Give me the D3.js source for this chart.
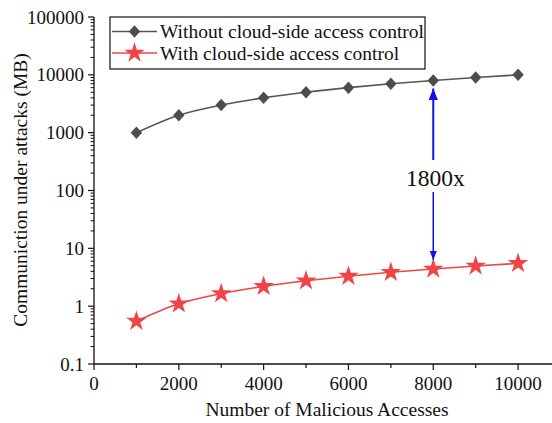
<!DOCTYPE html>
<html><head><meta charset="utf-8">
<script src="https://cdn.jsdelivr.net/npm/d3@7"></script>
<style>body{margin:0;background:#fff}svg{display:block}text{font-family:"Liberation Serif","Times New Roman",serif;fill:#111}</style>
</head><body>
<svg id="c" width="552" height="423"></svg>
<script>
const accesses = [1000,2000,3000,4000,5000,6000,7000,8000,9000,10000];
const withoutControl = [1000,2000,3000,4000,5000,6000,7000,8000,9000,10000];
const withControl = [0.55,1.1,1.65,2.2,2.75,3.3,3.85,4.4,4.95,5.5];
const seriesNames = ["Without cloud-side access control","With cloud-side access control"];
const xTicks = [0,2000,4000,6000,8000,10000];
const yTicks = [0.1,1,10,100,1000,10000,100000];
const annotation = "1800x";
const annotationX = 8000;

const svg = d3.select("#c");
const x = d3.scaleLinear().domain([0,10800]).range([94,552]);
const y = d3.scaleLog().domain([0.1,100000]).range([364,17]);
const tickSz = 19, titleSz = 19.5;

// x axis
const gx = svg.append("g").attr("transform","translate(0,364)");
gx.append("line").attr("x1",94).attr("x2",552).attr("stroke","#111").attr("stroke-width",1.3);
gx.selectAll(".t").data(d3.range(0,11000,1000)).enter().append("line")
  .attr("x1",d=>x(d)).attr("x2",d=>x(d)).attr("y1",0).attr("y2",d=>d%2000===0?6:4)
  .attr("stroke","#111").attr("stroke-width",1.2);
gx.selectAll(".l").data(xTicks).enter().append("text")
  .attr("x",d=>x(d)).attr("y",26).attr("text-anchor","middle").attr("font-size",tickSz).text(d=>d);

// y axis
const gy = svg.append("g").attr("transform","translate(94,0)");
gy.append("line").attr("y1",17).attr("y2",364).attr("stroke","#111").attr("stroke-width",1.3);
const minor = [];
for (let e=-1;e<5;e++) for (let m=2;m<=9;m++) minor.push(m*Math.pow(10,e));
gy.selectAll(".m").data(minor).enter().append("line")
  .attr("x1",-3.5).attr("x2",0).attr("y1",d=>y(d)).attr("y2",d=>y(d)).attr("stroke","#111").attr("stroke-width",1);
gy.selectAll(".t").data(yTicks).enter().append("line")
  .attr("x1",-6).attr("x2",0).attr("y1",d=>y(d)).attr("y2",d=>y(d)).attr("stroke","#111").attr("stroke-width",1.2);
gy.selectAll(".l").data(yTicks).enter().append("text")
  .attr("x",-10).attr("y",d=>y(d)).attr("dy","0.35em").attr("text-anchor","end").attr("font-size",tickSz)
  .text(d=>d<1?d.toFixed(1):d3.format("d")(d));

// axis titles
svg.append("text").attr("x",327).attr("y",416).attr("text-anchor","middle").attr("font-size",titleSz).text("Number of Malicious Accesses");
svg.append("text").attr("transform","translate(27,190) rotate(-90)").attr("text-anchor","middle").attr("font-size",titleSz).text("Communiction under attacks (MB)");

// lines
const line = (vals)=>d3.line().curve(d3.curveMonotoneX).x((d,i)=>x(accesses[i])).y(d=>y(d))(vals);
svg.append("path").attr("d",line(withoutControl)).attr("fill","none").attr("stroke","#555").attr("stroke-width",1.6);
svg.append("path").attr("d",line(withControl)).attr("fill","none").attr("stroke","#f04448").attr("stroke-width",1.6);

const diamond = d3.symbol().type(d3.symbolDiamond2).size(75);
const star = d3.symbol().type(d3.symbolStar).size(130);
svg.selectAll(".dm").data(withoutControl).enter().append("path").attr("d",diamond)
  .attr("transform",(d,i)=>`translate(${x(accesses[i])},${y(d)}) scale(1.05,1.15)`).attr("fill","#4d4d4d");
svg.selectAll(".st").data(withControl).enter().append("path").attr("d",star)
  .attr("transform",(d,i)=>`translate(${x(accesses[i])},${y(d)})`).attr("fill","#f04448");

// annotation arrows
const ax = x(annotationX);
const iTop = accesses.indexOf(annotationX);
const defs = svg.append("defs");
defs.append("marker").attr("id","ah").attr("viewBox","0 0 10 10").attr("refX",10).attr("refY",5)
  .attr("markerWidth",6).attr("markerHeight",8).attr("orient","auto")
  .append("path").attr("d","M0,1L10,5L0,9Z").attr("fill","#1010ee");
const topY = y(withoutControl[iTop])+8, botY = y(withControl[iTop])-9;
svg.append("line").attr("x1",ax).attr("x2",ax).attr("y1",160).attr("y2",topY).attr("stroke","#1010ee").attr("stroke-width",2).attr("marker-end","url(#ah)");
svg.append("line").attr("x1",ax).attr("x2",ax).attr("y1",192).attr("y2",botY).attr("stroke","#1010ee").attr("stroke-width",1.5).attr("marker-end","url(#ah)");
svg.append("text").attr("x",ax+2).attr("y",178).attr("dy","0.35em").attr("text-anchor","middle").attr("font-size",23.5).text(annotation);

// legend
const lg = svg.append("g");
lg.append("rect").attr("x",110).attr("y",17).attr("width",315).attr("height",52).attr("fill","#fff").attr("stroke","#111").attr("stroke-width",1.2);
const rows = [{y:31.5,c:"#555",sym:diamond,sc:"scale(1.05,1.15)"},{y:53,c:"#f04448",sym:star,sc:""}];
rows.forEach((r,i)=>{
  lg.append("line").attr("x1",112).attr("x2",157).attr("y1",r.y).attr("y2",r.y).attr("stroke",r.c).attr("stroke-width",1.6);
  lg.append("path").attr("d",r.sym).attr("transform",`translate(134.5,${r.y}) ${r.sc}`).attr("fill",i===0?"#4d4d4d":r.c);
  lg.append("text").attr("x",160).attr("y",r.y).attr("dy","0.35em").attr("font-size",titleSz).text(seriesNames[i]);
});
</script>
</body></html>
